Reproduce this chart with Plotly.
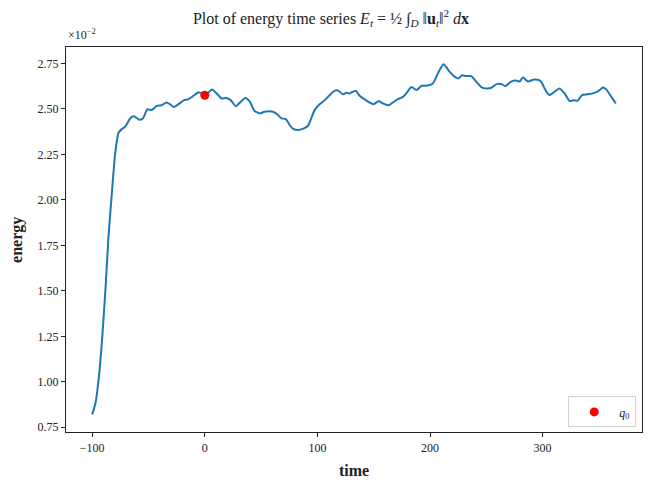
import plotly.graph_objects as go

# time axis values
time = [-100, -97, -94, -91, -88, -85.5, -82.5, -79.5, -76.5, -73.5, -71, -68, -66, -63,
        -58, -55, -51, -47, -43, -38.5, -34, -31, -27.5, -23.5, -18.5, -15, -10.5, -6, -3,
        0, 3, 6.5, 10.5, 15, 19, 23, 27.5, 31, 36, 40, 44, 49, 53, 60.5, 65, 68, 72, 75.5,
        78.5, 83, 87, 91.5, 94.5, 97.5, 102, 106.5, 111, 115.5, 118.5, 122.5, 125.5, 128.5,
        134, 137.5, 142, 146.5, 150, 154.5, 158, 163.5, 167, 171.5, 176, 179, 183.5, 188,
        192.5, 196.5, 202.5, 207, 212, 217.5, 222, 225, 228.5, 232, 236.5, 241, 245.5, 250,
        254.5, 259, 263.5, 267, 272, 277, 279.5, 282.5, 287, 291.5, 295.5, 298.5, 302.5, 306,
        310.5, 315, 319.5, 324, 328, 331, 335, 340, 346, 350, 353.5, 356.5, 361, 365]

# energy values in units of 1e-2
energy_e2 = [0.82, 0.885, 1.03, 1.25, 1.53, 1.80, 2.04, 2.26, 2.37, 2.39, 2.40, 2.43, 2.45, 2.46,
             2.44, 2.447, 2.497, 2.494, 2.515, 2.52, 2.535, 2.526, 2.51, 2.525, 2.548, 2.552, 2.57, 2.59, 2.588,
             2.58, 2.588, 2.607, 2.585, 2.557, 2.56, 2.548, 2.515, 2.533, 2.56, 2.54, 2.49, 2.475, 2.484, 2.484, 2.466, 2.448, 2.444, 2.41,
             2.39, 2.384, 2.39, 2.406, 2.448, 2.493, 2.525, 2.548, 2.576, 2.6, 2.6, 2.58, 2.588, 2.585,
             2.6, 2.572, 2.552, 2.534, 2.526, 2.543, 2.53, 2.52, 2.535, 2.553, 2.566, 2.585, 2.62, 2.603,
             2.627, 2.627, 2.64, 2.695, 2.745, 2.703, 2.676, 2.667, 2.685, 2.68, 2.68, 2.65, 2.62, 2.612,
             2.616, 2.636, 2.636, 2.625, 2.65, 2.655, 2.65, 2.673, 2.65, 2.66, 2.66, 2.65, 2.603, 2.576,
             2.594, 2.612, 2.585, 2.543, 2.548, 2.544, 2.576, 2.58, 2.588, 2.6, 2.618, 2.607, 2.566, 2.53]

q0_time = [0]
q0_energy_e2 = [2.575]

y_ticks = [0.75, 1.00, 1.25, 1.50, 1.75, 2.00, 2.25, 2.50, 2.75]
x_ticks = [-100, 0, 100, 200, 300]
x_ticktext = ["\u2212100", "0", "100", "200", "300"]

FONT = "Liberation Serif"

fig = go.Figure()
fig.add_trace(go.Scatter(x=time, y=energy_e2, mode="lines",
                         line=dict(color="#1f77b4", width=2, shape="spline", smoothing=0.6),
                         showlegend=False, hoverinfo="skip"))
fig.add_trace(go.Scatter(x=q0_time, y=q0_energy_e2, mode="markers",
                         marker=dict(color="red", size=9),
                         name="<i>q</i><sub>0</sub>"))

axis_common = dict(showline=True, linecolor="#222", linewidth=1.2, mirror=True,
                   ticks="outside", ticklen=4, tickcolor="#222", showgrid=False,
                   zeroline=False, automargin=False,
                   tickfont=dict(family=FONT, size=12, color="#222"))

# page body has an 8px margin, so the figure is sized to fit the remaining window
fig.update_layout(
    width=646, height=474,
    margin=dict(l=58, r=12, t=39, b=50),
    plot_bgcolor="white", paper_bgcolor="white",
    font=dict(family=FONT, color="#222"),
    title=dict(text="Plot of energy time series <i>E<sub>t</sub></i> = ½ ∫<sub><i>D</i></sub> ‖<b>u</b><sub><i>t</i></sub>‖<sup>2</sup> <i>d</i><b>x</b>",
               x=0.5, xanchor="center", y=0.978, yanchor="middle",
               font=dict(family=FONT, size=16, color="#222")),
    xaxis=dict(range=[-123.25, 388.25], tickvals=x_ticks, ticktext=x_ticktext,
               **axis_common),
    yaxis=dict(range=[0.724, 2.84], tickvals=y_ticks, tickformat=".2f",
               **axis_common),
    legend=dict(x=0.99, y=0.012, xanchor="right", yanchor="bottom",
                bordercolor="#d0d0d0", borderwidth=1, bgcolor="rgba(255,255,255,0.8)",
                itemwidth=40, font=dict(family=FONT, size=12)),
    annotations=[
        dict(text="×10<sup>−2</sup>", xref="paper", yref="paper", x=0, y=1.008,
             xanchor="left", yanchor="bottom", showarrow=False,
             font=dict(family=FONT, size=12, color="#222")),
        dict(text="<b>time</b>", xref="paper", yref="paper", x=0.5, y=-0.072,
             xanchor="center", yanchor="top", showarrow=False,
             font=dict(family=FONT, size=16, color="#222")),
        dict(text="<b>energy</b>", xref="paper", yref="paper", x=-0.067, y=0.5,
             xanchor="right", yanchor="middle", showarrow=False, textangle=-90,
             font=dict(family=FONT, size=16, color="#222")),
    ],
)

fig.write_html("out.html")
